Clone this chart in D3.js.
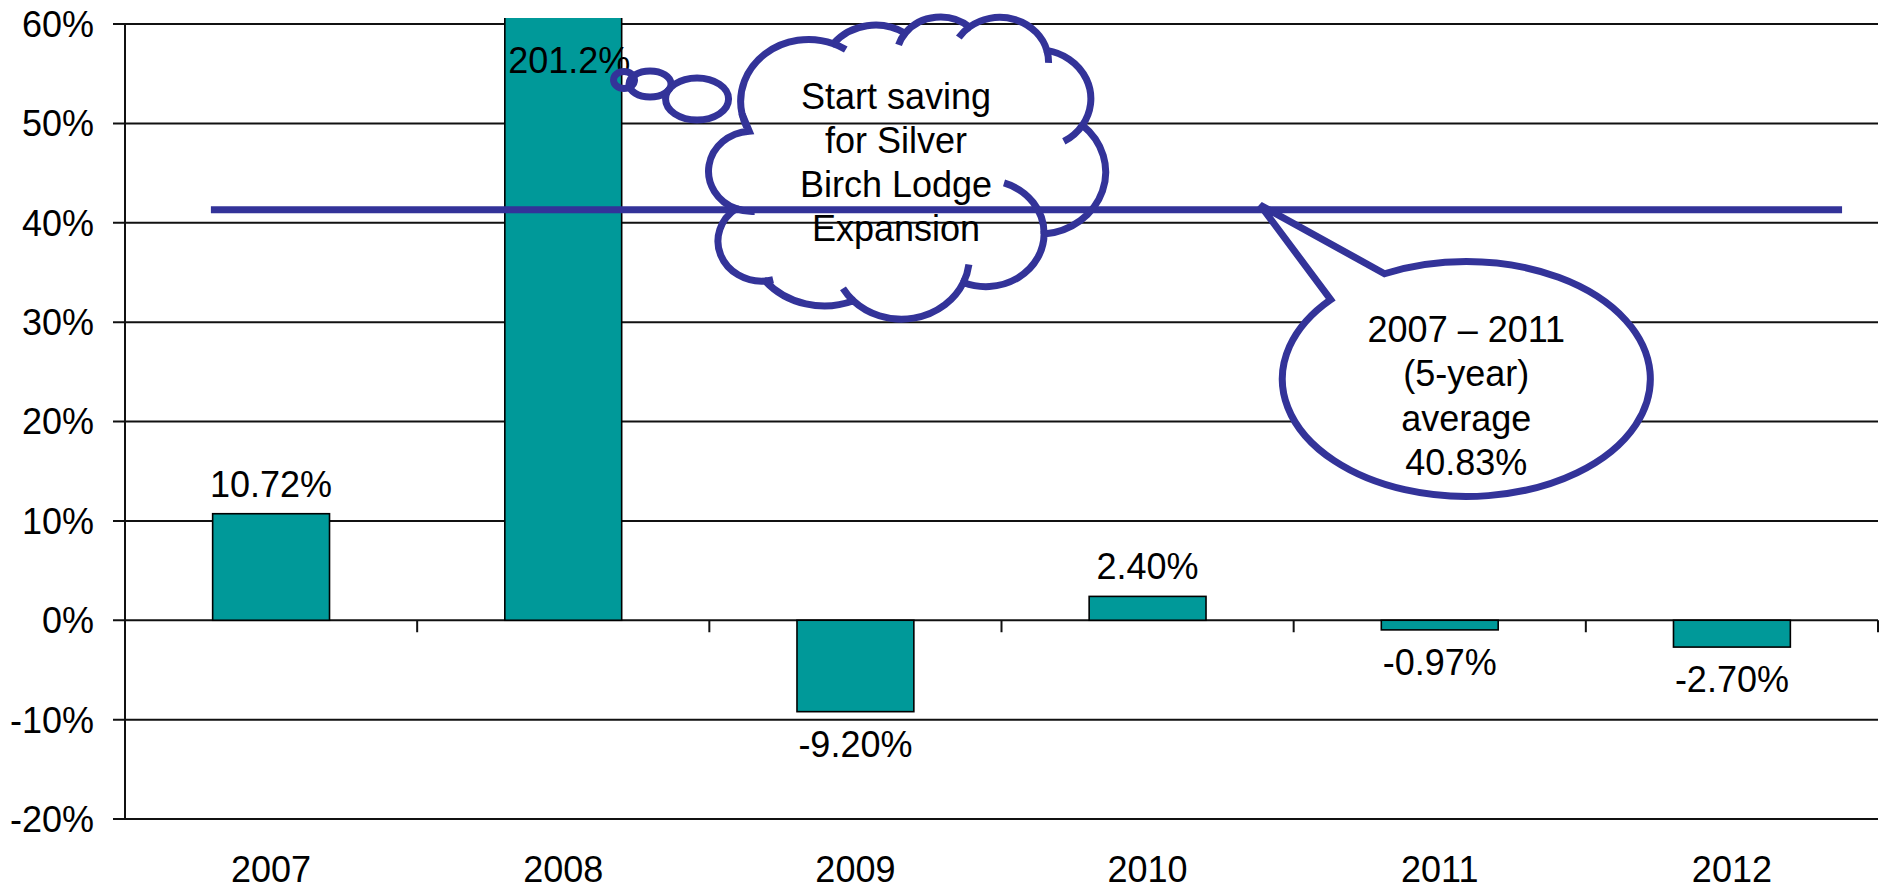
<!DOCTYPE html>
<html>
<head>
<meta charset="utf-8">
<script src="https://cdn.jsdelivr.net/npm/d3@7"></script>
<style>
  body { margin: 0; background: #fff; }
  text { font-family: "Liberation Sans", Arial, sans-serif; font-size: 36px; fill: #000; }
</style>
</head>
<body>
<svg id="chart" width="1883" height="886"></svg>
<script>
var years = ["2007", "2008", "2009", "2010", "2011", "2012"];
var growth = [10.72, 201.2, -9.20, 2.40, -0.97, -2.70];
var valueLabels = ["10.72%", "201.2%", "-9.20%", "2.40%", "-0.97%", "-2.70%"];
var yTicks = [-20, -10, 0, 10, 20, 30, 40, 50, 60];
var averageLevel = 41.3;   // height of the drawn average line
var cloudLines = ["Start saving", "for Silver", "Birch Lodge", "Expansion"];
var bubbleLines = ["2007 \u2013 2011", "(5-year)", "average", "40.83%"];

var margin = {top: 24, right: 5, bottom: 67, left: 125},
    width = 1883 - margin.left - margin.right,
    height = 886 - margin.top - margin.bottom;

var blue = "#333399", teal = "#009999";

var svg = d3.select("#chart");
var g = svg.append("g")
    .attr("transform", "translate(" + margin.left + "," + margin.top + ")");

var x = d3.scaleBand()
    .domain(years)
    .range([0, width])
    .paddingInner(0.6)
    .paddingOuter(0.3);

// category index -> pixel, used to place the callouts
var xi = d3.scaleLinear().domain([0, years.length]).range([0, width]);

var y = d3.scaleLinear()
    .domain([-20, 60])
    .range([height, 0]);

// gridlines + y ticks
g.append("g")
  .selectAll("line")
  .data(yTicks)
  .enter().append("line")
    .attr("x1", -12)
    .attr("x2", width)
    .attr("y1", function(d) { return y(d); })
    .attr("y2", function(d) { return y(d); })
    .attr("stroke", "#111")
    .attr("stroke-width", 2);

g.append("g")
  .selectAll("text")
  .data(yTicks)
  .enter().append("text")
    .attr("x", -31)
    .attr("y", function(d) { return y(d); })
    .attr("dy", "0.36em")
    .attr("text-anchor", "end")
    .text(function(d) { return d + "%"; });

// y axis line
g.append("line")
    .attr("x1", 0).attr("x2", 0)
    .attr("y1", 0).attr("y2", height)
    .attr("stroke", "#111")
    .attr("stroke-width", 2);

// category ticks on the zero line
g.append("g")
  .selectAll("line")
  .data(d3.range(years.length + 1))
  .enter().append("line")
    .attr("x1", function(d) { return xi(d); })
    .attr("x2", function(d) { return xi(d); })
    .attr("y1", y(0))
    .attr("y2", y(0) + 12)
    .attr("stroke", "#111")
    .attr("stroke-width", 2);

g.append("g")
  .selectAll("text")
  .data(years)
  .enter().append("text")
    .attr("x", function(d) { return x(d) + x.bandwidth() / 2; })
    .attr("y", height + 63)
    .attr("text-anchor", "middle")
    .text(function(d) { return d; });

// bars, clipped a little above the top of the axis like the original
g.append("clipPath")
    .attr("id", "plot-clip")
  .append("rect")
    .attr("x", -20)
    .attr("y", -6)
    .attr("width", width + 40)
    .attr("height", height + 6);

var bars = years.map(function(d, i) { return {year: d, value: growth[i], label: valueLabels[i]}; });

g.append("g")
    .attr("clip-path", "url(#plot-clip)")
  .selectAll("rect")
  .data(bars)
  .enter().append("rect")
    .attr("x", function(d) { return x(d.year); })
    .attr("width", x.bandwidth())
    .attr("y", function(d) { return y(Math.max(0, d.value)); })
    .attr("height", function(d) { return Math.abs(y(d.value) - y(0)); })
    .attr("fill", teal)
    .attr("stroke", "#000")
    .attr("stroke-width", 1.6);

g.append("g")
  .selectAll("text")
  .data(bars)
  .enter().append("text")
    .attr("x", function(d) {
      var c = x(d.year) + x.bandwidth() / 2;
      return d.value > 60 ? c + 6 : c;
    })
    .attr("y", function(d) {
      if (d.value > 60) return y(60) + 49;
      return d.value >= 0 ? y(d.value) - 17 : y(d.value) + 45;
    })
    .attr("text-anchor", "middle")
    .text(function(d) { return d.label; });

// average line
g.append("line")
    .attr("x1", xi(0.294))
    .attr("x2", xi(5.877))
    .attr("y1", y(averageLevel))
    .attr("y2", y(averageLevel))
    .attr("stroke", blue)
    .attr("stroke-width", 7);

// ---- thought cloud (DrawingML cloud geometry) ----
var cloudStart = [3900, 14370];
var cloudArcs = [
  [6753, 9190, -11429249, 7426832],
  [5333, 7267, -8646143, 5396714],
  [4365, 5945, -8748475, 5983381],
  [4857, 6595, -7859164, 7034504],
  [5333, 7273, -4722533, 6541615],
  [6775, 9220, -2776035, 7816140],
  [5785, 7867, 37501, 6842000],
  [6752, 9215, 1347096, 6910353],
  [7720, 10543, 3974558, 4542661],
  [4360, 5918, -16496525, 8804134],
  [4345, 5945, -14809710, 9151131]
];
// inner stubs: each one continues one of the bump ellipses above
var cloudStubs = [
  [4345, 5945, 5204520, 1585770],
  [4360, 5918, 4416628, 686848],
  [6752, 9215, 8257449, 844866],
  [6752, 9215, 387196, 959901],
  [5785, 7867, -4217541, 4255042],
  [5333, 7273, 1819082, 1665090],
  [4857, 6595, -824660, 891534],
  [4857, 6595, -8950887, 1091722],
  [4365, 5945, -9809656, 1061181],
  [6753, 9190, -4002417, 739161],
  [6753, 9190, 9459261, 711490]
];

function cloudGeometry(x0, y0, w, h) {
  var sx = w / 43200, sy = h / 43200, pts = [], ellipses = [];
  function param(wR, hR, a) {
    a *= Math.PI / 180;
    return Math.atan2(wR * Math.sin(a), hR * Math.cos(a));
  }
  function sweep(wR, hR, st, sw) {
    var t1 = param(wR, hR, st), t2 = param(wR, hR, st + sw), target = t1 + sw * Math.PI / 180;
    t2 += 2 * Math.PI * Math.round((target - t2) / (2 * Math.PI));
    return [t1, t2];
  }
  function arcCmd(wR, hR, t1, t2, cx, cy) {
    return "A" + wR + "," + hR + " 0 " + (Math.abs(t2 - t1) > Math.PI ? 1 : 0) + "," +
           (t2 > t1 ? 1 : 0) + " " + (cx + wR * Math.cos(t2)) + "," + (cy + hR * Math.sin(t2));
  }
  var cur = [x0 + cloudStart[0] * sx, y0 + cloudStart[1] * sy];
  pts.push(cur);
  var outline = "M" + cur[0] + "," + cur[1];
  cloudArcs.forEach(function(a) {
    var wR = a[0] * sx, hR = a[1] * sy, st = a[2] / 60000, sw = a[3] / 60000;
    var t = sweep(wR, hR, st, sw);
    var cx = cur[0] - wR * Math.cos(t[0]), cy = cur[1] - hR * Math.sin(t[0]);
    for (var i = 1; i <= 24; i++) {
      var tt = t[0] + (t[1] - t[0]) * i / 24;
      pts.push([cx + wR * Math.cos(tt), cy + hR * Math.sin(tt)]);
    }
    ellipses.push({key: a[0] + "x" + a[1], cx: cx, cy: cy, wR: wR, hR: hR});
    outline += arcCmd(wR, hR, t[0], t[1], cx, cy);
    cur = [cx + wR * Math.cos(t[1]), cy + hR * Math.sin(t[1])];
  });
  outline += "Z";
  var stubs = "";
  cloudStubs.forEach(function(s) {
    var e = ellipses.filter(function(d) { return d.key === s[0] + "x" + s[1]; })[0];
    var t = sweep(e.wR, e.hR, s[2] / 60000, s[3] / 60000);
    stubs += "M" + (e.cx + e.wR * Math.cos(t[0])) + "," + (e.cy + e.hR * Math.sin(t[0])) +
             arcCmd(e.wR, e.hR, t[0], t[1], e.cx, e.cy);
  });
  return {outline: outline, stubs: stubs, pts: pts};
}

function fitCloud(cx, cy, tw, th) {
  var w = tw, h = th, geo, ext;
  for (var k = 0; k < 3; k++) {
    geo = cloudGeometry(0, 0, w, h);
    ext = [d3.extent(geo.pts, function(p) { return p[0]; }), d3.extent(geo.pts, function(p) { return p[1]; })];
    w *= tw / (ext[0][1] - ext[0][0]);
    h *= th / (ext[1][1] - ext[1][0]);
  }
  geo = cloudGeometry(0, 0, w, h);
  ext = [d3.extent(geo.pts, function(p) { return p[0]; }), d3.extent(geo.pts, function(p) { return p[1]; })];
  var ox = cx - (ext[0][0] + ext[0][1]) / 2, oy = cy - (ext[1][0] + ext[1][1]) / 2;
  return cloudGeometry(ox, oy, w, h);
}

var cloud = fitCloud(xi(2.677), y(45.5), 398, 302);
var callouts = g.append("g")
    .attr("fill", "none")
    .attr("stroke", blue)
    .attr("stroke-width", 7);

callouts.append("path").attr("d", cloud.outline);
callouts.append("path").attr("d", cloud.stubs);

var thoughtDots = [
  {i: 1.708, v: 54.37, rx: 10.5, ry: 8.5},
  {i: 1.797, v: 53.96, rx: 21, ry: 13},
  {i: 1.958, v: 52.45, rx: 31.5, ry: 21}
];
callouts.selectAll("ellipse")
  .data(thoughtDots)
  .enter().append("ellipse")
    .attr("cx", function(d) { return xi(d.i); })
    .attr("cy", function(d) { return y(d.v); })
    .attr("rx", function(d) { return d.rx; })
    .attr("ry", function(d) { return d.ry; });

g.append("g")
  .selectAll("text")
  .data(cloudLines)
  .enter().append("text")
    .attr("x", xi(2.639))
    .attr("y", function(d, i) { return y(51.45) + i * 44; })
    .attr("text-anchor", "middle")
    .text(function(d) { return d; });

// ---- speech bubble pointing at the average line ----
var bubble = {i: 4.591, v: 24.28, rx: 184, ry: 117.5, tipI: 3.885, tipV: 41.79, a1: -137.5, a2: -116.4};
(function() {
  var cx = xi(bubble.i), cy = y(bubble.v);
  var p = function(a) { a *= Math.PI / 180; return [cx + bubble.rx * Math.cos(a), cy + bubble.ry * Math.sin(a)]; };
  var b1 = p(bubble.a1), b2 = p(bubble.a2);
  var d = "M" + b1 + "L" + [xi(bubble.tipI), y(bubble.tipV)] + "L" + b2 +
          "A" + bubble.rx + "," + bubble.ry + " 0 1,1 " + b1 + "Z";
  g.append("path")
      .attr("d", d)
      .attr("fill", "#fff")
      .attr("stroke", blue)
      .attr("stroke-width", 7)
      .attr("stroke-linejoin", "miter");

  g.append("g")
    .selectAll("text")
    .data(bubbleLines)
    .enter().append("text")
      .attr("x", cx)
      .attr("y", function(d, i) { return y(28.05) + i * 44.5; })
      .attr("text-anchor", "middle")
      .text(function(d) { return d; });
})();
</script>
</body>
</html>
